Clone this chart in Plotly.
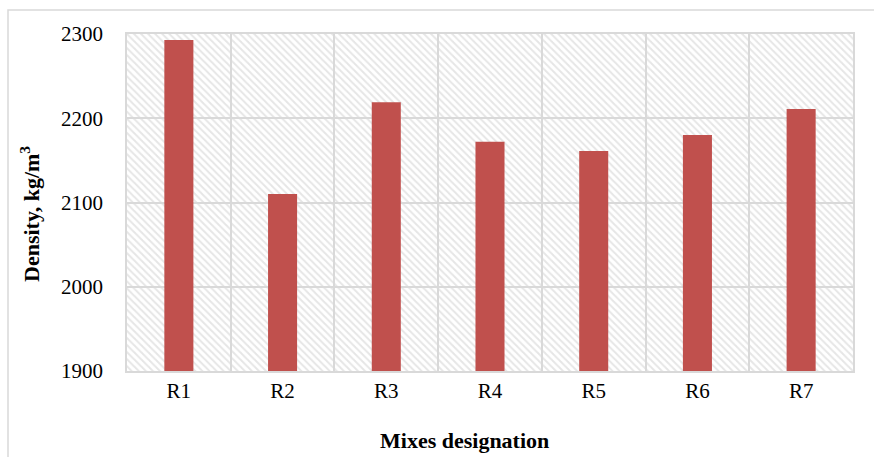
import plotly.graph_objects as go

categories = ["R1", "R2", "R3", "R4", "R5", "R6", "R7"]
density = [2293, 2110, 2219, 2172, 2161, 2180, 2211]
y_ticks = [1900, 2000, 2100, 2200, 2300]
y_range = [1900, 2300]

W, H = 874, 457
L, R, T, B = 127, 21, 34, 86
pw, ph = W - L - R, H - T - B
x_range = [-0.5, len(categories) - 0.5]

fig = go.Figure()
# hatched plot-area background (bottom subplot)
fig.add_trace(go.Bar(
    x=categories, y=[y_range[1] - y_range[0]] * len(categories), base=y_range[0],
    width=1, xaxis="x", yaxis="y",
    marker=dict(color="white", line=dict(width=0),
                pattern=dict(shape="\\", fgcolor="#cdcdcd", bgcolor="white",
                             size=5, solidity=0.4)),
    hoverinfo="skip", showlegend=False))
# data bars (top subplot, with grid)
fig.add_trace(go.Bar(
    x=categories, y=[v - y_range[0] for v in density], base=y_range[0],
    width=0.28, xaxis="x2", yaxis="y2",
    marker=dict(color="#c0504d", line=dict(width=0)),
    showlegend=False))

hidden = dict(visible=False, showgrid=False, zeroline=False, fixedrange=True)
fig.update_layout(
    width=W, height=H, margin=dict(l=L, r=R, t=T, b=B),
    paper_bgcolor="white", plot_bgcolor="rgba(0,0,0,0)",
    font=dict(family="Liberation Serif", color="black", size=21),
    xaxis=dict(range=x_range, domain=[0, 1], **hidden),
    yaxis=dict(range=y_range, domain=[0, 1], **hidden),
    xaxis2=dict(anchor="y2", range=x_range, domain=[0, 1], type="category",
                tickson="boundaries", showgrid=True, gridcolor="#d9d9d9", gridwidth=1.5,
                showline=True, linecolor="#d9d9d9", linewidth=1.5, mirror=True,
                ticks="outside", ticklen=8, tickcolor="rgba(0,0,0,0)",
                tickfont=dict(size=21)),
    yaxis2=dict(anchor="x2", range=y_range, domain=[0, 1], tickvals=y_ticks,
                showgrid=True, gridcolor="#d9d9d9", gridwidth=1.5,
                showline=True, linecolor="#d9d9d9", linewidth=1.5, mirror=True,
                ticks="outside", ticklen=18, tickcolor="rgba(0,0,0,0)",
                tickfont=dict(size=21), zeroline=False),
    annotations=[
        dict(text="<b>Density, kg/m<sup>3</sup></b>", xref="paper", yref="paper",
             x=(30 - L) / pw, y=1 - (214 - T) / ph, textangle=-90, showarrow=False,
             font=dict(size=22), xanchor="center", yanchor="middle"),
        dict(text="<b>Mixes designation</b>", xref="paper", yref="paper",
             x=(464 - L) / pw, y=-(440 - (T + ph)) / ph, showarrow=False,
             font=dict(size=22), xanchor="center", yanchor="middle"),
    ],
    shapes=[dict(type="rect", xref="paper", yref="paper",
                 x0=(8 - L) / pw, x1=(890 - L) / pw,
                 y0=-(470 - (T + ph)) / ph, y1=1 + (T - 10) / ph,
                 line=dict(color="#d9d9d9", width=1.5), layer="below")],
)

fig.write_html("out.html", config={"displayModeBar": False},
               post_script="document.body.style.margin='0';document.body.style.overflow='hidden';")
